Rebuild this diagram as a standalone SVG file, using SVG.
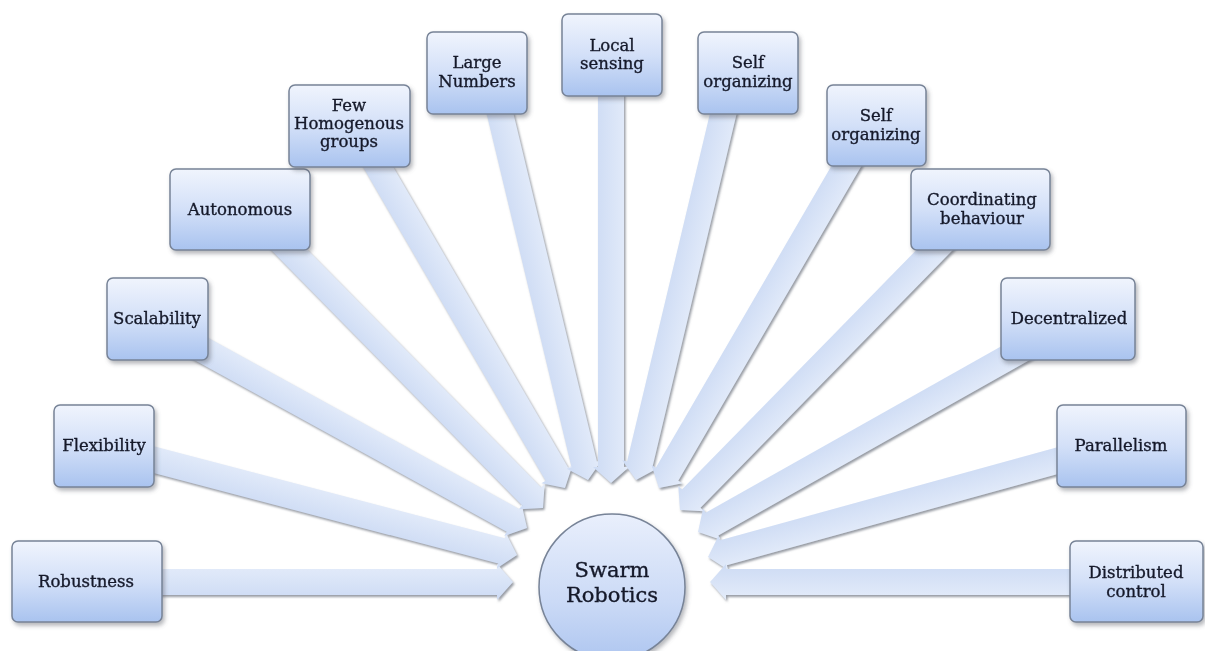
<svg xmlns="http://www.w3.org/2000/svg" width="1205" height="651" viewBox="0 0 1205 651">
<defs>
<linearGradient id="boxg" x1="0" y1="0" x2="0" y2="1">
<stop offset="0" stop-color="#f0f4fd"/>
<stop offset="0.5" stop-color="#d3e0f8"/>
<stop offset="1" stop-color="#a9c3ef"/>
</linearGradient>
<linearGradient id="circg" x1="0" y1="0" x2="0" y2="1">
<stop offset="0" stop-color="#e9effc"/>
<stop offset="0.6" stop-color="#cbdaf6"/>
<stop offset="1" stop-color="#aec6f0"/>
</linearGradient>
<linearGradient id="arrg" x1="0" y1="0" x2="0" y2="1">
<stop offset="0" stop-color="#e4ecfa"/>
<stop offset="1" stop-color="#cddbf4"/>
</linearGradient>
<filter id="shadow" x="-20%" y="-20%" width="140%" height="150%">
<feDropShadow dx="2" dy="3" stdDeviation="2" flood-color="#5a5f68" flood-opacity="0.45"/>
</filter>
<filter id="ashadow" x="-5%" y="-5%" width="110%" height="110%">
<feDropShadow dx="1.5" dy="2" stdDeviation="1.2" flood-color="#7d828c" flood-opacity="0.8"/>
</filter>
</defs>
<style>
.box{fill:url(#boxg);stroke:#778397;stroke-width:1.5;filter:url(#shadow)}
.arr{fill:url(#arrg)}
text{font-family:"DejaVu Serif","Liberation Serif",serif;font-size:16.5px;fill:#15192a;stroke:#15192a;stroke-width:0.35;text-anchor:middle}
.big{font-size:21px}
</style>
<rect width="1205" height="651" fill="#ffffff"/>

<g id="connectors" filter="url(#ashadow)">
<g transform="translate(513 582) rotate(0)"><polygon class="arr" points="-363,-13 -16,-13 -16,-18 0,0 -16,18 -16,13 -363,13"/></g>
<g transform="translate(517 555) rotate(14.7)"><polygon class="arr" points="-390,-13 -16,-13 -16,-18 0,0 -16,18 -16,13 -390,13"/></g>
<g transform="translate(527 528) rotate(28.8)"><polygon class="arr" points="-384,-13 -16,-13 -16,-18 0,0 -16,18 -16,13 -384,13"/></g>
<g transform="translate(543 508) rotate(45.5)"><polygon class="arr" points="-383,-13 -16,-13 -16,-18 0,0 -16,18 -16,13 -383,13"/></g>
<g transform="translate(565 488) rotate(59.8)"><polygon class="arr" points="-391,-13 -16,-13 -16,-18 0,0 -16,18 -16,13 -391,13"/></g>
<g transform="translate(588 480) rotate(76.5)"><polygon class="arr" points="-394,-13 -16,-13 -16,-18 0,0 -16,18 -16,13 -394,13"/></g>
<g transform="translate(611 483) rotate(90)"><polygon class="arr" points="-403,-13 -16,-13 -16,-18 0,0 -16,18 -16,13 -403,13"/></g>
<g transform="translate(636 480) rotate(103.4)"><polygon class="arr" points="-394,-13 -16,-13 -16,-18 0,0 -16,18 -16,13 -394,13"/></g>
<g transform="translate(659 488) rotate(120.2)"><polygon class="arr" points="-391,-13 -16,-13 -16,-18 0,0 -16,18 -16,13 -391,13"/></g>
<g transform="translate(680 510) rotate(134.4)"><polygon class="arr" points="-385,-13 -16,-13 -16,-18 0,0 -16,18 -16,13 -385,13"/></g>
<g transform="translate(698 532) rotate(150.6)"><polygon class="arr" points="-385,-13 -16,-13 -16,-18 0,0 -16,18 -16,13 -385,13"/></g>
<g transform="translate(708 557) rotate(164.6)"><polygon class="arr" points="-381,-13 -16,-13 -16,-18 0,0 -16,18 -16,13 -381,13"/></g>
<g transform="translate(710 582) rotate(180)"><polygon class="arr" points="-370,-13 -16,-13 -16,-18 0,0 -16,18 -16,13 -370,13"/></g>
</g>

<g id="center">
<circle cx="612" cy="587" r="73" fill="url(#circg)" stroke="#778397" stroke-width="1.5" filter="url(#shadow)"/>
<text class="big" x="612" y="577">Swarm</text>
<text class="big" x="612" y="602">Robotics</text>
</g>

<g id="n-robustness"><rect class="box" x="12" y="541" width="150" height="81" rx="6"/><text x="86" y="587">Robustness</text></g>
<g id="n-flexibility"><rect class="box" x="54" y="405" width="100" height="82" rx="6"/><text x="104" y="451">Flexibility</text></g>
<g id="n-scalability"><rect class="box" x="107" y="278" width="101" height="82" rx="6"/><text x="157" y="324">Scalability</text></g>
<g id="n-autonomous"><rect class="box" x="170" y="169" width="140" height="81" rx="6"/><text x="240" y="215">Autonomous</text></g>
<g id="n-homogenous"><rect class="box" x="289" y="85" width="121" height="82" rx="6"/><text x="349" y="111">Few</text><text x="349" y="129">Homogenous</text><text x="349" y="147">groups</text></g>
<g id="n-large"><rect class="box" x="427" y="32" width="100" height="82" rx="6"/><text x="477" y="68">Large</text><text x="477" y="87">Numbers</text></g>
<g id="n-local"><rect class="box" x="562" y="14" width="100" height="82" rx="6"/><text x="612" y="51">Local</text><text x="612" y="69">sensing</text></g>
<g id="n-selforg1"><rect class="box" x="698" y="32" width="100" height="82" rx="6"/><text x="748" y="68">Self</text><text x="748" y="87">organizing</text></g>
<g id="n-selforg2"><rect class="box" x="827" y="85" width="99" height="81" rx="6"/><text x="876" y="121">Self</text><text x="876" y="140">organizing</text></g>
<g id="n-coordinating"><rect class="box" x="911" y="169" width="139" height="81" rx="6"/><text x="982" y="205">Coordinating</text><text x="982" y="224">behaviour</text></g>
<g id="n-decentralized"><rect class="box" x="1001" y="278" width="134" height="82" rx="6"/><text x="1069" y="324">Decentralized</text></g>
<g id="n-parallelism"><rect class="box" x="1057" y="405" width="129" height="82" rx="6"/><text x="1121" y="451">Parallelism</text></g>
<g id="n-distributed"><rect class="box" x="1070" y="541" width="133" height="81" rx="6"/><text x="1136" y="578">Distributed</text><text x="1136" y="597">control</text></g>
</svg>
